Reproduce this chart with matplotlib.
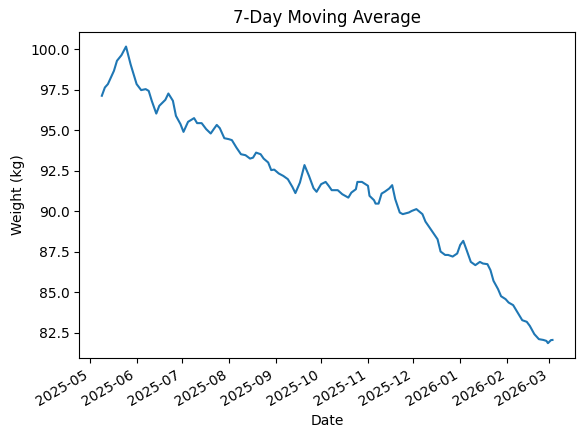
import pandas as pd
import matplotlib
matplotlib.use('Agg')
import matplotlib.pyplot as plt
import matplotlib.dates as mdates


# values (7-day moving average, kg)
dates = [
    '2025-05-09', '2025-05-11', '2025-05-13', '2025-05-17', '2025-05-19',
    '2025-05-22', '2025-05-25', '2025-05-28', '2025-05-29', '2025-06-01',
    '2025-06-04', '2025-06-07', '2025-06-09', '2025-06-11', '2025-06-14',
    '2025-06-16', '2025-06-20', '2025-06-22', '2025-06-25', '2025-06-27',
    '2025-06-30', '2025-07-02', '2025-07-05', '2025-07-09', '2025-07-11',
    '2025-07-14', '2025-07-17', '2025-07-20', '2025-07-22', '2025-07-24',
    '2025-07-26', '2025-07-29', '2025-08-01', '2025-08-03', '2025-08-06',
    '2025-08-09', '2025-08-12', '2025-08-15', '2025-08-17', '2025-08-19',
    '2025-08-22', '2025-08-24', '2025-08-27', '2025-08-29', '2025-08-31',
    '2025-09-03', '2025-09-06', '2025-09-09', '2025-09-12', '2025-09-14',
    '2025-09-17', '2025-09-20', '2025-09-23', '2025-09-26', '2025-09-28',
    '2025-10-01', '2025-10-04', '2025-10-06', '2025-10-08', '2025-10-12',
    '2025-10-15', '2025-10-19', '2025-10-21', '2025-10-24', '2025-10-25',
    '2025-10-28', '2025-11-01', '2025-11-02', '2025-11-05', '2025-11-06',
    '2025-11-08', '2025-11-10', '2025-11-12', '2025-11-15', '2025-11-17',
    '2025-11-19', '2025-11-22', '2025-11-24', '2025-11-28', '2025-11-30',
    '2025-12-03', '2025-12-07', '2025-12-09', '2025-12-11', '2025-12-14',
    '2025-12-17', '2025-12-19', '2025-12-22', '2025-12-24', '2025-12-27',
    '2025-12-30', '2026-01-01', '2026-01-03', '2026-01-05', '2026-01-08',
    '2026-01-11', '2026-01-14', '2026-01-16', '2026-01-19', '2026-01-21',
    '2026-01-23', '2026-01-26', '2026-01-28', '2026-01-31', '2026-02-02',
    '2026-02-05', '2026-02-07', '2026-02-11', '2026-02-14', '2026-02-16',
    '2026-02-19', '2026-02-22', '2026-02-25', '2026-02-27', '2026-02-28',
    '2026-03-02', '2026-03-03',
]
weight_ma = [
    97.12, 97.63, 97.84, 98.66, 99.28,
    99.63, 100.16, 99.07, 98.76, 97.84,
    97.47, 97.53, 97.42, 96.81, 96.02,
    96.50, 96.87, 97.26, 96.81, 95.88,
    95.37, 94.89, 95.51, 95.74, 95.43,
    95.43, 95.06, 94.79, 95.06, 95.32,
    95.12, 94.50, 94.44, 94.38, 93.92,
    93.51, 93.45, 93.24, 93.30, 93.61,
    93.51, 93.24, 93.00, 92.53, 92.56,
    92.32, 92.17, 91.97, 91.49, 91.11,
    91.76, 92.84, 92.17, 91.41, 91.19,
    91.66, 91.80, 91.56, 91.29, 91.29,
    91.04, 90.83, 91.14, 91.35, 91.80,
    91.80, 91.56, 90.94, 90.67, 90.46,
    90.46, 91.08, 91.19, 91.39, 91.60,
    90.74, 89.91, 89.81, 89.91, 90.01,
    90.12, 89.81, 89.35, 89.08, 88.67,
    88.26, 87.50, 87.29, 87.29, 87.19,
    87.38, 87.91, 88.16, 87.65, 86.86,
    86.66, 86.86, 86.76, 86.72, 86.35,
    85.69, 85.18, 84.74, 84.56, 84.35,
    84.19, 83.88, 83.26, 83.16, 82.91,
    82.40, 82.09, 82.04, 81.98, 81.84,
    82.03, 82.04,
]

df = pd.DataFrame({'date': pd.to_datetime(dates), 'weight': weight_ma})

fig = plt.figure(figsize=(5.84, 4.38), dpi=100)
ax = fig.add_axes([0.1358, 0.1826, 0.8488, 0.745])
ax.plot(df.date, df.weight)
ax.set_title('7-Day Moving Average')
ax.set_xlabel('Date')
ax.set_ylabel('Weight (kg)')
ax.xaxis.set_major_locator(mdates.MonthLocator())
ax.xaxis.set_major_formatter(mdates.DateFormatter('%Y-%m'))
for label in ax.get_xticklabels():
    label.set_rotation(30)
    label.set_ha('right')

fig.savefig('out.png', dpi=100)
